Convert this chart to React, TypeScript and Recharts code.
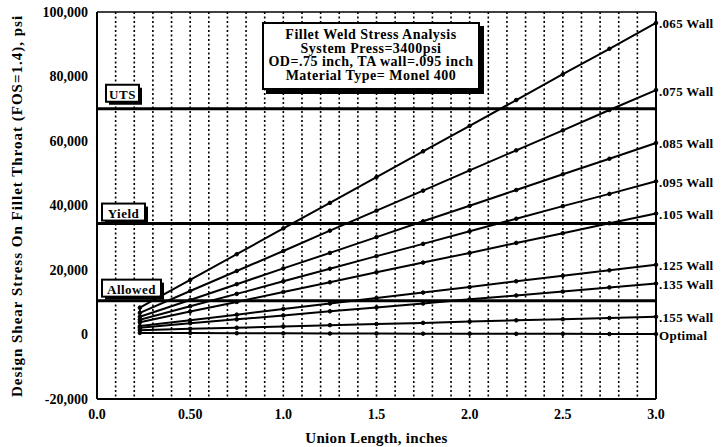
import React from "react";
import {
  LineChart,
  Line,
  XAxis,
  YAxis,
  CartesianGrid,
  ReferenceLine,
} from "recharts";

// union length, inches
const lengths = [0.23, 0.5, 0.75, 1.0, 1.25, 1.5, 1.75, 2.0, 2.25, 2.5, 2.75, 3.0];

// design shear stress, psi
const wall065 = [8330, 16900, 24900, 32900, 40800, 48800, 56800, 64700, 72700, 80700, 88600, 96600];
const wall075 = [6700, 13500, 19700, 25900, 32200, 38400, 44600, 50900, 57100, 63300, 69600, 75800];
const wall085 = [5500, 10700, 15600, 20500, 25300, 30200, 35100, 39900, 44800, 49700, 54500, 59400];
const wall095 = [4600, 8750, 12600, 16500, 20400, 24300, 28100, 32000, 35900, 39800, 43600, 47500];
const wall105 = [3800, 7100, 10100, 13200, 16200, 19300, 22300, 25300, 28400, 31400, 34500, 37500];
const wall125 = [2600, 4400, 6150, 7900, 9600, 11300, 13000, 14700, 16500, 18200, 19900, 21600];
const wall135 = [2100, 3500, 4700, 5900, 7200, 8400, 9600, 10900, 12100, 13300, 14600, 15800];
const wall155 = [1350, 1750, 2100, 2500, 2900, 3250, 3600, 4000, 4400, 4750, 5100, 5500];
const optimal = [500, 450, 400, 350, 300, 300, 250, 250, 200, 200, 150, 150];

const seriesNames = [".065 Wall", ".075 Wall", ".085 Wall", ".095 Wall", ".105 Wall", ".125 Wall", ".135 Wall", ".155 Wall", "Optimal"];
const seriesValues = [wall065, wall075, wall085, wall095, wall105, wall125, wall135, wall155, optimal];

// vertical bar joining the start of every curve
const bracketX = [0.23, 0.23];
const bracketY = [500, 8330];

const UTS = 70000;
const YIELD = 34400;
const ALLOWED = 10500;

const yTicks = [-20000, 0, 20000, 40000, 60000, 80000, 100000];
const xGridTicks = [
  0, 0.1, 0.2, 0.3, 0.4, 0.5, 0.6, 0.7, 0.8, 0.9, 1.0, 1.1, 1.2, 1.3, 1.4, 1.5,
  1.6, 1.7, 1.8, 1.9, 2.0, 2.1, 2.2, 2.3, 2.4, 2.5, 2.6, 2.7, 2.8, 2.9, 3.0,
];
const xTickLabels: Record<string, string> = {
  "0": "0.0",
  "0.5": "0.50",
  "1": "1.0",
  "1.5": "1.5",
  "2": "2.0",
  "2.5": "2.5",
  "3": "3.0",
};

const titleLines = [
  "Fillet Weld Stress Analysis",
  "System Press=3400psi",
  "OD=.75 inch, TA wall=.095 inch",
  "Material Type= Monel 400",
];

const FONT = "'Liberation Serif', 'Times New Roman', serif";

function TagLabel(props: any) {
  const { viewBox, text, w, gap } = props;
  const h = 17;
  const x = viewBox.x + (props.x0 ?? 5);
  const top = viewBox.y - gap - h;
  return (
    <g>
      <rect x={x + 3} y={top + 3} width={w} height={h} fill="#000" />
      <rect x={x} y={top} width={w} height={h} fill="#fff" stroke="#000" strokeWidth={2} />
      <text
        x={x + w / 2}
        y={top + h / 2 + 1}
        textAnchor="middle"
        dominantBaseline="central"
        fontFamily={FONT}
        fontWeight="bold"
        fontSize={13}
        letterSpacing={0.5}
        fill="#000"
      >
        {text}
      </text>
    </g>
  );
}

export default function App() {
  const series = seriesValues.map((vals) => lengths.map((x, i) => ({ x, y: vals[i] })));
  const bracket = bracketX.map((x, i) => ({ x, y: bracketY[i] }));
  const last = lengths.length - 1;

  return (
    <div
      style={{
        position: "absolute",
        left: 0,
        top: 0,
        width: 724,
        height: 447,
        background: "#fff",
      }}
    >
      <LineChart
        width={724}
        height={447}
        margin={{ top: 12, right: 68, bottom: 0, left: 0 }}
      >
        <CartesianGrid
          horizontal={false}
          stroke="#000"
          strokeWidth={1.6}
          strokeDasharray="2 2.5"
        />
        <XAxis
          type="number"
          dataKey="x"
          domain={[0, 3]}
          ticks={xGridTicks}
          interval={0}
          height={48}
          tickLine={false}
          tickMargin={4}
          axisLine={{ stroke: "#000", strokeWidth: 2 }}
          tickFormatter={(v: number) => xTickLabels[String(v)] ?? ""}
          tick={{ fontFamily: FONT, fontWeight: "bold", fontSize: 14, fill: "#000" }}
          label={{
            value: "Union Length, inches",
            position: "insideBottom",
            offset: 4,
            style: { fontFamily: FONT, fontWeight: "bold", fontSize: 15, fill: "#000", letterSpacing: 0.3 },
          }}
        />
        <YAxis
          type="number"
          domain={[-20000, 100000]}
          ticks={yTicks}
          width={97}
          tickLine={false}
          tickMargin={3}
          axisLine={{ stroke: "#000", strokeWidth: 2 }}
          tickFormatter={(v: number) => v.toLocaleString("en-US")}
          tick={{ fontFamily: FONT, fontWeight: "bold", fontSize: 14, fill: "#000" }}
          label={{
            content: () => (
              <text
                x={17}
                y={206}
                transform="rotate(-90 17 206)"
                textAnchor="middle"
                dominantBaseline="central"
                fontFamily={FONT}
                fontWeight="bold"
                fontSize={15}
                letterSpacing={1}
                fill="#000"
              >
                Design Shear Stress On Fillet Throat (FOS=1.4), psi
              </text>
            ),
          }}
        />
        <ReferenceLine y={100000} stroke="#000" strokeWidth={1.5} />
        <ReferenceLine x={3} stroke="#000" strokeWidth={2} />
        <ReferenceLine
          y={UTS}
          stroke="#000"
          strokeWidth={3}
          label={<TagLabel text="UTS" w={33} gap={7} x0={9} />}
        />
        <ReferenceLine
          y={YIELD}
          stroke="#000"
          strokeWidth={3}
          label={<TagLabel text="Yield" w={43} gap={3} x0={5} />}
        />
        <ReferenceLine
          y={ALLOWED}
          stroke="#000"
          strokeWidth={3}
          label={<TagLabel text="Allowed" w={59} gap={4} x0={5} />}
        />
        <Line
          data={bracket}
          dataKey="y"
          stroke="#000"
          strokeWidth={2}
          dot={false}
          isAnimationActive={false}
        />
        {series.map((data, s) => (
          <Line
            key={seriesNames[s]}
            data={data}
            dataKey="y"
            name={seriesNames[s]}
            stroke="#000"
            strokeWidth={2}
            dot={{ r: 1.8, fill: "#000", stroke: "#000", strokeWidth: 1 }}
            isAnimationActive={false}
            label={(p: any) =>
              p.index === last ? (
                <text
                  key={`lbl-${s}`}
                  x={p.x + 3}
                  y={p.y + 1}
                  dominantBaseline="central"
                  fontFamily={FONT}
                  fontWeight="bold"
                  fontSize={13}
                  letterSpacing={0.3}
                  fill="#000"
                >
                  {seriesNames[s]}
                </text>
              ) : (
                <g key={`lbl-${s}-${p.index}`} />
              )
            }
          />
        ))}
      </LineChart>
      <div
        style={{
          position: "absolute",
          left: 262,
          top: 22,
          width: 218,
          height: 68,
          border: "2px solid #000",
          boxShadow: "4px 4px 0 #000",
          background: "#fff",
          fontFamily: FONT,
          fontWeight: "bold",
          fontSize: 14,
          letterSpacing: 0.5,
          lineHeight: "13.5px",
          textAlign: "center",
          paddingTop: 4,
          boxSizing: "border-box",
          whiteSpace: "nowrap",
        }}
      >
        {titleLines.map((t) => (
          <div key={t}>{t}</div>
        ))}
      </div>
    </div>
  );
}
